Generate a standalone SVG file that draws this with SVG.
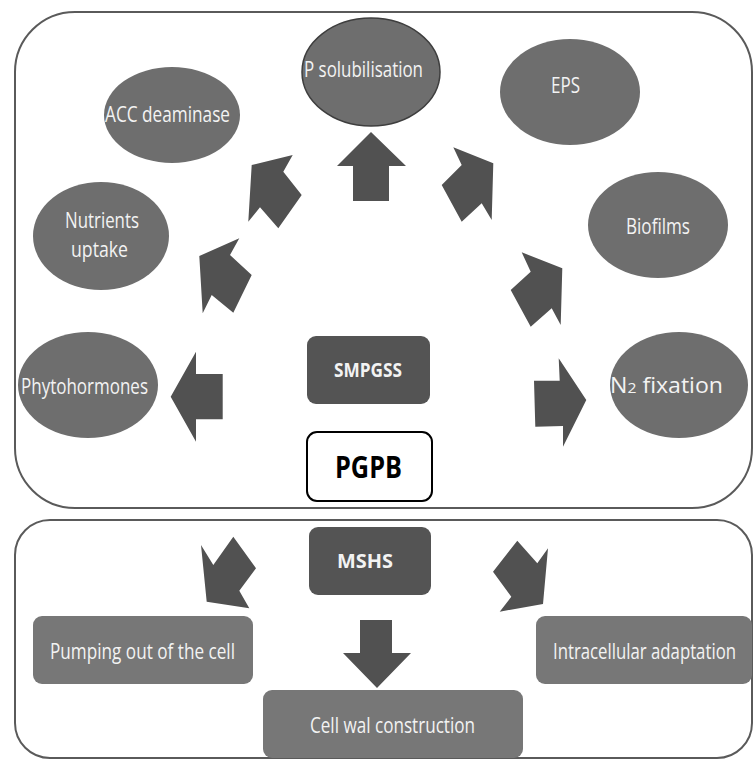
<svg xmlns="http://www.w3.org/2000/svg" width="756" height="760" viewBox="0 0 756 760">
<style>
  .frame { fill: #ffffff; stroke: #5a5a5a; stroke-width: 2; }
  .ell { fill: #6e6e6e; }
  .ell-b { fill: #6e6e6e; stroke: #3e3e3e; stroke-width: 1.5; }
  .arrow { fill: #515151; }
  .dark { fill: #545454; }
  .light { fill: #777777; }
  .pgpb { fill: #ffffff; stroke: #000000; stroke-width: 2; }
  .t { font-family: "Open Sans", "Lato", "DejaVu Sans", sans-serif; font-size: 22px; fill: #f3f3f3; }
  .tb { font-family: "Open Sans", "Lato", "DejaVu Sans", sans-serif; font-size: 20px; font-weight: bold; fill: #f3f3f3; }
  .tbig { font-family: "Open Sans", "Lato", "DejaVu Sans", sans-serif; font-size: 31px; font-weight: bold; fill: #000000; }
</style>

<g id="frames">
  <rect class="frame" x="15" y="12" width="737" height="496" rx="60" ry="60"/>
  <rect class="frame" x="15" y="520" width="737" height="238" rx="35" ry="35"/>
</g>

<g id="connectors">
  <polygon class="arrow" points="371,132 406,166 389,166 389,201 353,201 353,166 337,166"/>
  <polygon class="arrow" points="251.7,165 292.7,155 283.3,171.7 301.7,195 278.3,228.3 260,207.3 248.3,221.7"/>
  <polygon class="arrow" points="199.3,256 239.3,238.3 230,255 251.7,275 233.3,312.7 211.7,295 202.7,313.3"/>
  <polygon class="arrow" points="453.3,147.3 493.3,163.3 491.7,220 481.7,203.3 461.7,221.7 441.7,185 461.7,165"/>
  <polygon class="arrow" points="521.7,252.3 562.3,268.3 560.7,325 551.7,308.3 530.7,326.7 510.7,290 530.7,271.7"/>
  <polygon class="arrow" points="170.7,396.7 196,351.7 196,374 222.7,374 222.7,419.3 196,419.3 196,441.7"/>
  <polygon class="arrow" points="586.3,400 563,446.7 563,426 535.3,426.7 534,380.7 559.7,380.7 558.7,358.3"/>
  <polygon class="arrow" points="206.7,601.7 201,545 213.3,565 233.3,536.7 256,568.3 239.3,590.7 249.3,608.3"/>
  <polygon class="arrow" points="377,688 343,653 360,653 360,620 392,620 392,653 411,653"/>
  <polygon class="arrow" points="543,604 499.7,611.7 511.3,596.7 493,571.7 517.3,540.7 537.3,563.3 548,548.3"/>
</g>

<g id="p-solubilisation">
  <ellipse class="ell-b" cx="371" cy="72" rx="69" ry="54"/>
  <text class="t" x="304" y="77" textLength="119" lengthAdjust="spacingAndGlyphs">P solubilisation</text>
</g>
<g id="eps">
  <ellipse class="ell" cx="570" cy="92" rx="70" ry="53"/>
  <text class="t" x="551" y="93" textLength="29" lengthAdjust="spacingAndGlyphs">EPS</text>
</g>
<g id="acc-deaminase">
  <ellipse class="ell" cx="172" cy="115" rx="68" ry="48"/>
  <text class="t" x="105" y="122" textLength="125" lengthAdjust="spacingAndGlyphs">ACC deaminase</text>
</g>
<g id="biofilms">
  <ellipse class="ell" cx="658" cy="225" rx="70" ry="53"/>
  <text class="t" x="626" y="234" textLength="64" lengthAdjust="spacingAndGlyphs">Biofilms</text>
</g>
<g id="nutrients-uptake">
  <ellipse class="ell" cx="101" cy="236" rx="68" ry="54"/>
  <text class="t" x="65" y="228" textLength="74" lengthAdjust="spacingAndGlyphs">Nutrients</text>
  <text class="t" x="71" y="257" textLength="57" lengthAdjust="spacingAndGlyphs">uptake</text>
</g>
<g id="phytohormones">
  <ellipse class="ell" cx="88" cy="385" rx="70" ry="53"/>
  <text class="t" x="21" y="394" textLength="127" lengthAdjust="spacingAndGlyphs">Phytohormones</text>
</g>
<g id="n2-fixation">
  <ellipse class="ell" cx="679" cy="385" rx="69" ry="53"/>
  <text class="t" x="610" y="393" textLength="113" lengthAdjust="spacingAndGlyphs">N<tspan font-size="15">2</tspan> fixation</text>
</g>
<g id="smpgss">
  <rect class="dark" x="307" y="336" width="123" height="68" rx="9"/>
  <text class="tb" x="334" y="377" textLength="68" lengthAdjust="spacingAndGlyphs">SMPGSS</text>
</g>
<g id="pgpb">
  <rect class="pgpb" x="307" y="432" width="125" height="69" rx="10"/>
  <text class="tbig" x="335" y="478" textLength="67" lengthAdjust="spacingAndGlyphs">PGPB</text>
</g>
<g id="mshs">
  <rect class="dark" x="309" y="527" width="122" height="68" rx="9"/>
  <text class="tb" x="337" y="568" textLength="56" lengthAdjust="spacingAndGlyphs">MSHS</text>
</g>
<g id="pumping-out">
  <rect class="light" x="33" y="616" width="220" height="68" rx="9"/>
  <text class="t" x="50" y="659" textLength="185" lengthAdjust="spacingAndGlyphs">Pumping out of the cell</text>
</g>
<g id="cell-wall">
  <rect class="light" x="263" y="690" width="260" height="68" rx="9"/>
  <text class="t" x="310" y="733" textLength="165" lengthAdjust="spacingAndGlyphs">Cell wal construction</text>
</g>
<g id="intracellular">
  <rect class="light" x="536" y="616" width="216" height="68" rx="9"/>
  <text class="t" transform="translate(553,659) scale(0.8,1)" x="0" y="0" textLength="228.75" lengthAdjust="spacingAndGlyphs">Intracellular adaptation</text>
</g>
</svg>
